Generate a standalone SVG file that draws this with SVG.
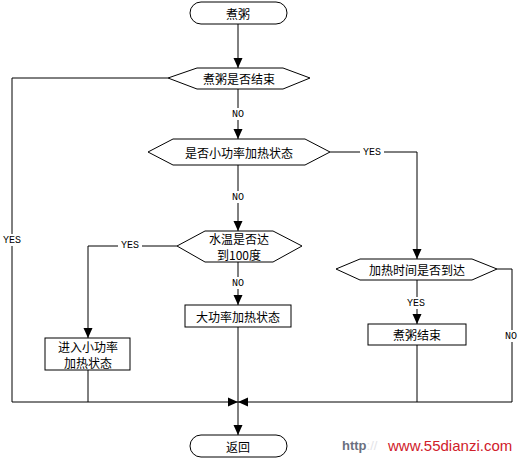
<svg xmlns="http://www.w3.org/2000/svg" width="521" height="459" viewBox="0 0 521 459">
<style>
.s{fill:#fff;stroke:#000;stroke-width:1}
.t{font-family:"Noto Sans CJK SC","Noto Sans",sans-serif;font-size:12px;fill:#000;text-anchor:middle;dominant-baseline:central}
.l{font-family:"Liberation Mono","DejaVu Sans Mono",monospace;font-size:10px;fill:#000;text-anchor:middle;dominant-baseline:central}
.c{fill:none;stroke:#000;stroke-width:1}
.lb{fill:#fff}
</style>
<defs>
<marker id="a" markerUnits="userSpaceOnUse" markerWidth="10" markerHeight="10" refX="10" refY="5" orient="auto" viewBox="0 0 10 10">
<path d="M0,0.5 L10,5 L0,9.5 z" fill="#000"/>
</marker>
</defs>
<rect width="521" height="459" fill="#fff"/>
<g id="connectors">
<path class="c" d="M238,24 V68" marker-end="url(#a)"/>
<path class="c" d="M238,89 V139" marker-end="url(#a)"/>
<path class="c" d="M238,165 V231" marker-end="url(#a)"/>
<path class="c" d="M238,262 V305" marker-end="url(#a)"/>
<path class="c" d="M238,327 V435" marker-end="url(#a)"/>
<path class="c" d="M168,78 H12 V402 H238" marker-end="url(#a)"/>
<path class="c" d="M512,402 H238" marker-end="url(#a)"/>
<path class="c" d="M330,152 H417 V259" marker-end="url(#a)"/>
<path class="c" d="M177,246 H88 V338" marker-end="url(#a)"/>
<path class="c" d="M88,370 V402"/>
<path class="c" d="M417,280 V324" marker-end="url(#a)"/>
<path class="c" d="M417,345 V402"/>
<path class="c" d="M497,269 H512 V402"/>
<rect class="lb" x="229" y="108" width="18" height="12"/>
<text class="l" x="238" y="114">NO</text>
<rect class="lb" x="229" y="191" width="18" height="12"/>
<text class="l" x="238" y="197">NO</text>
<rect class="lb" x="229" y="277" width="18" height="12"/>
<text class="l" x="238" y="283">NO</text>
<rect class="lb" x="360" y="146" width="24" height="12"/>
<text class="l" x="372" y="152">YES</text>
<rect class="lb" x="118" y="240" width="24" height="12"/>
<text class="l" x="130" y="245">YES</text>
<rect class="lb" x="1" y="234" width="23" height="12"/>
<text class="l" x="12" y="240">YES</text>
<rect class="lb" x="405" y="297" width="24" height="12"/>
<text class="l" x="416" y="303">YES</text>
<rect class="lb" x="503" y="330" width="18" height="12"/>
<text class="l" x="511" y="336">NO</text>
</g>
<g id="start">
<rect class="s" x="190" y="2" width="97" height="22" rx="11"/>
<text class="t" x="238" y="13">煮粥</text>
</g>
<g id="d1">
<polygon class="s" points="168,78 197,68 283,68 310,78 283,89 197,89"/>
<text class="t" x="239" y="78">煮粥是否结束</text>
</g>
<g id="d2">
<polygon class="s" points="148,152 173,139 305,139 330,152 305,165 173,165"/>
<text class="t" x="239" y="152">是否小功率加热状态</text>
</g>
<g id="d3">
<polygon class="s" points="177,246 205,231 273,231 302,246 273,262 205,262"/>
<text class="t" x="239" y="238" font-size="11.5">水温是否达</text>
<text class="t" x="239" y="254" font-size="11.5">到100度</text>
</g>
<g id="big">
<rect class="s" x="185" y="305" width="106" height="22"/>
<text class="t" x="238" y="316">大功率加热状态</text>
</g>
<g id="small">
<rect class="s" x="45" y="338" width="85" height="32"/>
<text class="t" x="88" y="346" font-size="11.5">进入小功率</text>
<text class="t" x="88" y="362" font-size="11.5">加热状态</text>
</g>
<g id="d4">
<polygon class="s" points="336,269 360,259 472,259 497,269 472,280 360,280"/>
<text class="t" x="417" y="269">加热时间是否到达</text>
</g>
<g id="end">
<rect class="s" x="368" y="324" width="98" height="21"/>
<text class="t" x="417" y="334">煮粥结束</text>
</g>
<g id="ret">
<rect class="s" x="190" y="435" width="97" height="22" rx="11"/>
<text class="t" x="238" y="446">返回</text>
</g>
<g id="watermark">
<text x="342" y="450" font-family="'Liberation Sans',sans-serif" font-size="13" font-weight="bold" fill="#6a6f80">http<tspan fill="#e4e4e8" font-weight="normal">://</tspan></text>
<text x="388" y="451" font-family="'Liberation Sans',sans-serif" font-size="15" fill="#d0202a">www.55dianzi.com</text>
</g>
</svg>
